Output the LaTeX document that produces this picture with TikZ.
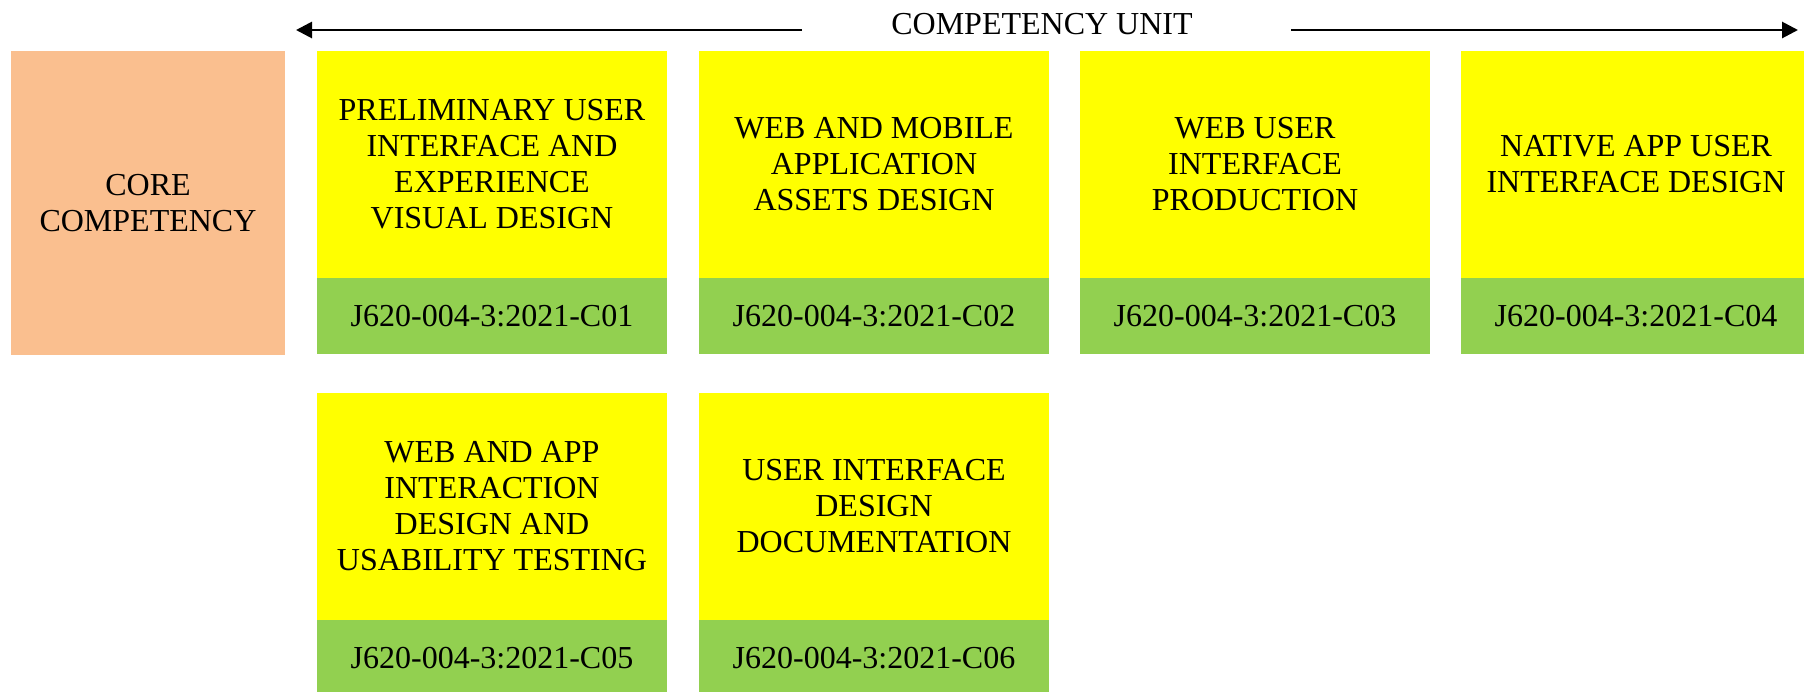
\documentclass[tikz,border=0pt]{standalone}
\usepackage{fontspec}
\setmainfont{Liberation Serif}
\usetikzlibrary{arrows.meta}
\definecolor{peach}{HTML}{FABF8F}
\definecolor{ylw}{HTML}{FFFF00}
\definecolor{grn}{HTML}{92D050}
\begin{document}
\begin{tikzpicture}[x=1pt,y=-1pt,
  txt/.style={font=\fontsize{32}{36}\selectfont, align=center, inner sep=0pt},
  corebox/.style={txt, fill=peach, minimum width=274pt, minimum height=304pt},
  titlebox/.style={txt, fill=ylw, minimum width=350pt, minimum height=227pt},
  codebox/.style={txt, fill=grn, minimum width=350pt, minimum height=76pt},
  arr/.style={line width=2.8pt, -{Triangle[length=16pt,width=16pt]}}
]
\useasboundingbox (0,0) rectangle (1804,691);
\clip (0,0) rectangle (1804,691);
\fill[white] (0,0) rectangle (1804,691);

\node[txt] (title) at (1042,24) {COMPETENCY UNIT};
\coordinate (la) at (296,30);
\coordinate (lb) at (802,30);
\coordinate (ra) at (1291,30);
\coordinate (rb) at (1798,30);
\draw[arr] (lb) -- (la);
\draw[arr] (ra) -- (rb);

\node[corebox] (core) at (148,203) {CORE\\COMPETENCY};

\node[titlebox] (u1) at (492,164.5) {PRELIMINARY USER\\INTERFACE AND\\EXPERIENCE\\VISUAL DESIGN};
\node[titlebox] (u2) at (874,164.5) {WEB AND MOBILE\\APPLICATION\\ASSETS DESIGN};
\node[titlebox] (u3) at (1255,164.5) {WEB USER\\INTERFACE\\PRODUCTION};
\node[titlebox] (u4) at (1636,164.5) {NATIVE APP USER\\INTERFACE DESIGN};

\node[codebox] (c1) at (492,316) {J620-004-3:2021-C01};
\node[codebox] (c2) at (874,316) {J620-004-3:2021-C02};
\node[codebox] (c3) at (1255,316) {J620-004-3:2021-C03};
\node[codebox] (c4) at (1636,316) {J620-004-3:2021-C04};

\node[titlebox] (u5) at (492,506.5) {WEB AND APP\\INTERACTION\\DESIGN AND\\USABILITY TESTING};
\node[titlebox] (u6) at (874,506.5) {USER INTERFACE\\DESIGN\\DOCUMENTATION};

\node[codebox] (c5) at (492,658) {J620-004-3:2021-C05};
\node[codebox] (c6) at (874,658) {J620-004-3:2021-C06};
\end{tikzpicture}
\end{document}
